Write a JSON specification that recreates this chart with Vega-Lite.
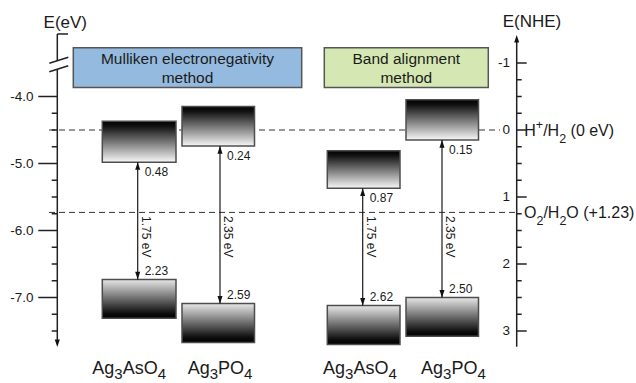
{
  "$schema": "https://vega.github.io/schema/vega-lite/v6.json",
  "width": 636,
  "height": 383,
  "padding": 0,
  "autosize": "none",
  "background": "white",
  "config": {"view": {"stroke": null}, "font": "Liberation Sans", "text": {"color": "#1a1a1a"}},
  "datasets": {
    "panels": [
      {"method": "Mulliken electronegativity method", "x1": 7.33, "x2": 30.17, "top": -1.228, "bottom": -0.634},
      {"method": "Band alignment method", "x1": 32.43, "x2": 48.83, "top": -1.228, "bottom": -0.634}
    ],
    "panelText": [
      {"text": "Mulliken electronegativity", "x": 18.75, "y": -1.054},
      {"text": "method", "x": 18.75, "y": -0.782},
      {"text": "Band alignment", "x": 40.63, "y": -1.054},
      {"text": "method", "x": 40.63, "y": -0.782}
    ],
    "refLines": [
      {"couple": "H+/H2", "level": 0, "x1": 4.9, "x2": 50.0},
      {"couple": "O2/H2O", "level": 1.23, "x1": 4.9, "x2": 51.67}
    ],
    "bands": [
      {"method": "Mulliken electronegativity", "material": "Ag3AsO4", "x1": 10.23, "x2": 17.6, "xa": 13.77, "cbTop": -0.13, "cb": 0.48, "vb": 2.23, "vbBottom": 2.81, "gap": "1.75 eV"},
      {"method": "Mulliken electronegativity", "material": "Ag3PO4", "x1": 18.2, "x2": 25.45, "xa": 22.0, "cbTop": -0.35, "cb": 0.24, "vb": 2.59, "vbBottom": 3.17, "gap": "2.35 eV"},
      {"method": "Band alignment", "material": "Ag3AsO4", "x1": 32.73, "x2": 40.0, "xa": 36.27, "cbTop": 0.31, "cb": 0.87, "vb": 2.62, "vbBottom": 3.2, "gap": "1.75 eV"},
      {"method": "Band alignment", "material": "Ag3PO4", "x1": 40.6, "x2": 47.85, "xa": 44.2, "cbTop": -0.45, "cb": 0.15, "vb": 2.5, "vbBottom": 3.08, "gap": "2.35 eV"}
    ],
    "leftTicks": [
      {"eV": -4.0, "label": "-4.0", "major": true},
      {"eV": -5.0, "label": "-5.0", "major": true},
      {"eV": -6.0, "label": "-6.0", "major": true},
      {"eV": -7.0, "label": "-7.0", "major": true},
      {"eV": -4.25, "label": "", "major": false},
      {"eV": -4.5, "label": "", "major": false},
      {"eV": -4.75, "label": "", "major": false},
      {"eV": -5.25, "label": "", "major": false},
      {"eV": -5.5, "label": "", "major": false},
      {"eV": -5.75, "label": "", "major": false},
      {"eV": -6.25, "label": "", "major": false},
      {"eV": -6.5, "label": "", "major": false},
      {"eV": -6.75, "label": "", "major": false},
      {"eV": -7.25, "label": "", "major": false},
      {"eV": -7.5, "label": "", "major": false}
    ],
    "rightTicks": [
      {"nhe": -1, "label": "-1", "major": true},
      {"nhe": -0.75, "label": "", "major": false},
      {"nhe": -0.5, "label": "", "major": false},
      {"nhe": -0.25, "label": "", "major": false},
      {"nhe": 0, "label": "0", "major": true},
      {"nhe": 0.25, "label": "", "major": false},
      {"nhe": 0.5, "label": "", "major": false},
      {"nhe": 0.75, "label": "", "major": false},
      {"nhe": 1, "label": "1", "major": true},
      {"nhe": 1.25, "label": "", "major": false},
      {"nhe": 1.5, "label": "", "major": false},
      {"nhe": 1.75, "label": "", "major": false},
      {"nhe": 2, "label": "2", "major": true},
      {"nhe": 2.25, "label": "", "major": false},
      {"nhe": 2.5, "label": "", "major": false},
      {"nhe": 2.75, "label": "", "major": false},
      {"nhe": 3, "label": "3", "major": true}
    ],
    "axisLines": [
      {"part": "left upper", "x1": 5.73, "x2": 5.73, "y1": -1.433, "y2": -1.03},
      {"part": "left lower", "x1": 5.73, "x2": 5.73, "y1": -0.91, "y2": 3.17},
      {"part": "left cap", "x1": 5.73, "x2": 6.8, "y1": -1.433, "y2": -1.433},
      {"part": "break 1", "x1": 4.93, "x2": 6.83, "y1": -0.996, "y2": -1.085},
      {"part": "break 2", "x1": 4.93, "x2": 6.83, "y1": -0.87, "y2": -0.96},
      {"part": "right", "x1": 51.67, "x2": 51.67, "y1": -1.35, "y2": 3.234}
    ],
    "axisHeads": [
      {"x": 5.73, "y": 3.239, "dir": "down"},
      {"x": 51.67, "y": -1.418, "dir": "up"}
    ],
    "headers": [
      {"text": "E(eV)", "x": 6.53, "y": -1.594},
      {"text": "E(NHE)", "x": 53.2, "y": -1.618}
    ],
    "formula": [
      {"material": "Ag3AsO4", "method": "Mulliken", "piece": "Ag", "x": 9.23, "kind": "main"},
      {"material": "Ag3AsO4", "method": "Mulliken", "piece": "3", "x": 11.43, "kind": "sub"},
      {"material": "Ag3AsO4", "method": "Mulliken", "piece": "AsO", "x": 12.27, "kind": "main"},
      {"material": "Ag3AsO4", "method": "Mulliken", "piece": "4", "x": 15.77, "kind": "sub"},
      {"material": "Ag3PO4", "method": "Mulliken", "piece": "Ag", "x": 18.77, "kind": "main"},
      {"material": "Ag3PO4", "method": "Mulliken", "piece": "3", "x": 20.97, "kind": "sub"},
      {"material": "Ag3PO4", "method": "Mulliken", "piece": "PO", "x": 21.81, "kind": "main"},
      {"material": "Ag3PO4", "method": "Mulliken", "piece": "4", "x": 24.41, "kind": "sub"},
      {"material": "Ag3AsO4", "method": "Band alignment", "piece": "Ag", "x": 32.3, "kind": "main"},
      {"material": "Ag3AsO4", "method": "Band alignment", "piece": "3", "x": 34.5, "kind": "sub"},
      {"material": "Ag3AsO4", "method": "Band alignment", "piece": "AsO", "x": 35.34, "kind": "main"},
      {"material": "Ag3AsO4", "method": "Band alignment", "piece": "4", "x": 38.84, "kind": "sub"},
      {"material": "Ag3PO4", "method": "Band alignment", "piece": "Ag", "x": 42.1, "kind": "main"},
      {"material": "Ag3PO4", "method": "Band alignment", "piece": "3", "x": 44.3, "kind": "sub"},
      {"material": "Ag3PO4", "method": "Band alignment", "piece": "PO", "x": 45.14, "kind": "main"},
      {"material": "Ag3PO4", "method": "Band alignment", "piece": "4", "x": 47.74, "kind": "sub"}
    ],
    "couples": [
      {"level": 0, "piece": "H", "x": 52.43, "kind": "main"},
      {"level": 0, "piece": "+", "x": 53.585, "kind": "sup"},
      {"level": 0, "piece": "/H", "x": 54.315, "kind": "main"},
      {"level": 0, "piece": "2", "x": 55.915, "kind": "sub"},
      {"level": 0, "piece": "(0 eV)", "x": 57.055, "kind": "main"},
      {"level": 1.23, "piece": "O", "x": 52.4, "kind": "main"},
      {"level": 1.23, "piece": "2", "x": 53.645, "kind": "sub"},
      {"level": 1.23, "piece": "/H", "x": 54.34, "kind": "main"},
      {"level": 1.23, "piece": "2", "x": 55.94, "kind": "sub"},
      {"level": 1.23, "piece": "O (+1.23)", "x": 56.635, "kind": "main"}
    ]
  },
  "layer": [
    {
      "data": {"name": "panels"},
      "mark": {"type": "rect", "stroke": "#555555", "strokeWidth": 1.5},
      "encoding": {
        "x": {"field": "x1", "type": "quantitative", "scale": {"domain": [0, 63.6], "nice": false, "zero": false}, "axis": null},
        "x2": {"field": "x2"},
        "y": {"field": "top", "type": "quantitative", "scale": {"domain": [-1.9403, 3.7761], "reverse": true, "nice": false, "zero": false}, "axis": null},
        "y2": {"field": "bottom"},
        "color": {"field": "method", "type": "nominal", "scale": {"domain": ["Mulliken electronegativity method", "Band alignment method"], "range": ["#95badf", "#d5e8b3"]}, "legend": null}
      }
    },
    {
      "data": {"name": "panelText"},
      "mark": {"type": "text", "fontSize": 15.5, "align": "center", "baseline": "middle", "color": "#1a1a1a"},
      "encoding": {
        "x": {"field": "x", "type": "quantitative", "axis": null},
        "y": {"field": "y", "type": "quantitative", "axis": null},
        "text": {"field": "text"}
      }
    },
    {
      "data": {"name": "refLines"},
      "mark": {"type": "rule", "color": "#333333", "strokeWidth": 1, "strokeDash": [6, 4]},
      "encoding": {
        "x": {"field": "x1", "type": "quantitative", "axis": null},
        "x2": {"field": "x2"},
        "y": {"field": "level", "type": "quantitative", "axis": null}
      }
    },
    {
      "data": {"name": "bands"},
      "mark": {"type": "rect", "stroke": "#4d4d4d", "strokeWidth": 1.5,
        "fill": {"gradient": "linear", "x1": 0, "y1": 0, "x2": 0, "y2": 1,
          "stops": [{"offset": 0, "color": "#000000"}, {"offset": 0.12, "color": "#111111"}, {"offset": 1, "color": "#f8f8f8"}]}},
      "encoding": {
        "x": {"field": "x1", "type": "quantitative", "axis": null},
        "x2": {"field": "x2"},
        "y": {"field": "cbTop", "type": "quantitative", "axis": null},
        "y2": {"field": "cb"}
      }
    },
    {
      "data": {"name": "bands"},
      "mark": {"type": "rect", "stroke": "#4d4d4d", "strokeWidth": 1.5,
        "fill": {"gradient": "linear", "x1": 0, "y1": 0, "x2": 0, "y2": 1,
          "stops": [{"offset": 0, "color": "#e8e8e8"}, {"offset": 0.88, "color": "#0c0c0c"}, {"offset": 1, "color": "#000000"}]}},
      "encoding": {
        "x": {"field": "x1", "type": "quantitative", "axis": null},
        "x2": {"field": "x2"},
        "y": {"field": "vb", "type": "quantitative", "axis": null},
        "y2": {"field": "vbBottom"}
      }
    },
    {
      "data": {"name": "bands"},
      "mark": {"type": "rule", "color": "#1a1a1a", "strokeWidth": 1.2},
      "encoding": {
        "x": {"field": "xa", "type": "quantitative", "axis": null},
        "y": {"field": "cb", "type": "quantitative", "axis": null},
        "y2": {"field": "vb"}
      }
    },
    {
      "data": {"name": "bands"},
      "mark": {"type": "point", "shape": "M0,0L0.8,2.4L-0.8,2.4Z", "size": 40, "filled": true, "opacity": 1, "color": "#111111", "strokeWidth": 0},
      "encoding": {
        "x": {"field": "xa", "type": "quantitative", "axis": null},
        "y": {"field": "cb", "type": "quantitative", "axis": null}
      }
    },
    {
      "data": {"name": "bands"},
      "mark": {"type": "point", "shape": "M0,0L0.8,-2.4L-0.8,-2.4Z", "size": 40, "filled": true, "opacity": 1, "color": "#111111", "strokeWidth": 0},
      "encoding": {
        "x": {"field": "xa", "type": "quantitative", "axis": null},
        "y": {"field": "vb", "type": "quantitative", "axis": null}
      }
    },
    {
      "data": {"name": "bands"},
      "mark": {"type": "text", "fontSize": 12, "align": "left", "baseline": "middle", "dx": 7, "dy": 10, "color": "#1a1a1a"},
      "encoding": {
        "x": {"field": "xa", "type": "quantitative", "axis": null},
        "y": {"field": "cb", "type": "quantitative", "axis": null},
        "text": {"field": "cb", "type": "quantitative", "format": ".2f"}
      }
    },
    {
      "data": {"name": "bands"},
      "mark": {"type": "text", "fontSize": 12, "align": "left", "baseline": "middle", "dx": 7, "dy": -8.5, "color": "#1a1a1a"},
      "encoding": {
        "x": {"field": "xa", "type": "quantitative", "axis": null},
        "y": {"field": "vb", "type": "quantitative", "axis": null},
        "text": {"field": "vb", "type": "quantitative", "format": ".2f"}
      }
    },
    {
      "data": {"name": "bands"},
      "mark": {"type": "text", "fontSize": 12, "align": "left", "baseline": "middle", "angle": 90, "dy": -8, "color": "#1a1a1a"},
      "encoding": {
        "x": {"field": "xa", "type": "quantitative", "axis": null},
        "y": {"datum": 1.284, "type": "quantitative", "axis": null},
        "text": {"field": "gap"}
      }
    },
    {
      "data": {"name": "leftTicks"},
      "transform": [{"filter": "datum.major"}, {"calculate": "-4.5 - datum.eV", "as": "nhe"}],
      "layer": [
        {
          "mark": {"type": "rule", "color": "#222222", "strokeWidth": 1.5},
          "encoding": {
            "x": {"datum": 3.83, "type": "quantitative", "axis": null},
            "x2": {"datum": 5.73},
            "y": {"field": "nhe", "type": "quantitative", "axis": null}
          }
        },
        {
          "mark": {"type": "text", "fontSize": 13.5, "align": "right", "baseline": "middle", "color": "#1a1a1a"},
          "encoding": {
            "x": {"datum": 3.35, "type": "quantitative", "axis": null},
            "y": {"field": "nhe", "type": "quantitative", "axis": null},
            "text": {"field": "label"}
          }
        }
      ]
    },
    {
      "data": {"name": "leftTicks"},
      "transform": [{"filter": "!datum.major"}, {"calculate": "-4.5 - datum.eV", "as": "nhe"}],
      "mark": {"type": "rule", "color": "#222222", "strokeWidth": 1.5},
      "encoding": {
        "x": {"datum": 5.17, "type": "quantitative", "axis": null},
        "x2": {"datum": 5.73},
        "y": {"field": "nhe", "type": "quantitative", "axis": null}
      }
    },
    {
      "data": {"name": "rightTicks"},
      "transform": [{"filter": "datum.major"}],
      "layer": [
        {
          "mark": {"type": "rule", "color": "#222222", "strokeWidth": 1.5},
          "encoding": {
            "x": {"datum": 51.67, "type": "quantitative", "axis": null},
            "x2": {"datum": 52.67},
            "y": {"field": "nhe", "type": "quantitative", "axis": null}
          }
        },
        {
          "mark": {"type": "text", "fontSize": 13.5, "align": "right", "baseline": "middle", "color": "#1a1a1a"},
          "encoding": {
            "x": {"datum": 51.0, "type": "quantitative", "axis": null},
            "y": {"field": "nhe", "type": "quantitative", "axis": null},
            "text": {"field": "label"}
          }
        }
      ]
    },
    {
      "data": {"name": "rightTicks"},
      "transform": [{"filter": "!datum.major"}],
      "mark": {"type": "rule", "color": "#222222", "strokeWidth": 1.5},
      "encoding": {
        "x": {"datum": 51.67, "type": "quantitative", "axis": null},
        "x2": {"datum": 52.17},
        "y": {"field": "nhe", "type": "quantitative", "axis": null}
      }
    },
    {
      "data": {"name": "axisLines"},
      "mark": {"type": "rule", "color": "#222222", "strokeWidth": 1.5},
      "encoding": {
        "x": {"field": "x1", "type": "quantitative", "axis": null},
        "x2": {"field": "x2"},
        "y": {"field": "y1", "type": "quantitative", "axis": null},
        "y2": {"field": "y2"}
      }
    },
    {
      "data": {"name": "axisHeads"},
      "mark": {"type": "point", "size": 40, "filled": true, "opacity": 1, "color": "#111111", "strokeWidth": 0},
      "encoding": {
        "x": {"field": "x", "type": "quantitative", "axis": null},
        "y": {"field": "y", "type": "quantitative", "axis": null},
        "shape": {"field": "dir", "type": "nominal", "scale": {"domain": ["up", "down"], "range": ["M0,0L0.8,2.4L-0.8,2.4Z", "M0,0L0.8,-2.4L-0.8,-2.4Z"]}, "legend": null}
      }
    },
    {
      "data": {"name": "headers"},
      "mark": {"type": "text", "fontSize": 17, "align": "center", "baseline": "middle", "color": "#1a1a1a"},
      "encoding": {
        "x": {"field": "x", "type": "quantitative", "axis": null},
        "y": {"field": "y", "type": "quantitative", "axis": null},
        "text": {"field": "text"}
      }
    },
    {
      "data": {"name": "formula"},
      "transform": [{"filter": "datum.kind === 'main'"}],
      "mark": {"type": "text", "fontSize": 18, "align": "left", "baseline": "alphabetic", "color": "#1a1a1a"},
      "encoding": {
        "x": {"field": "x", "type": "quantitative", "axis": null},
        "y": {"datum": 3.649, "type": "quantitative", "axis": null},
        "text": {"field": "piece"}
      }
    },
    {
      "data": {"name": "formula"},
      "transform": [{"filter": "datum.kind === 'sub'"}],
      "mark": {"type": "text", "fontSize": 15, "align": "left", "baseline": "alphabetic", "dy": 5, "color": "#1a1a1a"},
      "encoding": {
        "x": {"field": "x", "type": "quantitative", "axis": null},
        "y": {"datum": 3.649, "type": "quantitative", "axis": null},
        "text": {"field": "piece"}
      }
    },
    {
      "data": {"name": "couples"},
      "transform": [{"filter": "datum.kind === 'main'"}],
      "mark": {"type": "text", "fontSize": 16, "align": "left", "baseline": "alphabetic", "dy": 6, "color": "#1a1a1a"},
      "encoding": {
        "x": {"field": "x", "type": "quantitative", "axis": null},
        "y": {"field": "level", "type": "quantitative", "axis": null},
        "text": {"field": "piece"}
      }
    },
    {
      "data": {"name": "couples"},
      "transform": [{"filter": "datum.kind === 'sub'"}],
      "mark": {"type": "text", "fontSize": 12.5, "align": "left", "baseline": "alphabetic", "dy": 12.5, "color": "#1a1a1a"},
      "encoding": {
        "x": {"field": "x", "type": "quantitative", "axis": null},
        "y": {"field": "level", "type": "quantitative", "axis": null},
        "text": {"field": "piece"}
      }
    },
    {
      "data": {"name": "couples"},
      "transform": [{"filter": "datum.kind === 'sup'"}],
      "mark": {"type": "text", "fontSize": 12.5, "align": "left", "baseline": "alphabetic", "dy": -1, "color": "#1a1a1a"},
      "encoding": {
        "x": {"field": "x", "type": "quantitative", "axis": null},
        "y": {"field": "level", "type": "quantitative", "axis": null},
        "text": {"field": "piece"}
      }
    }
  ]
}
